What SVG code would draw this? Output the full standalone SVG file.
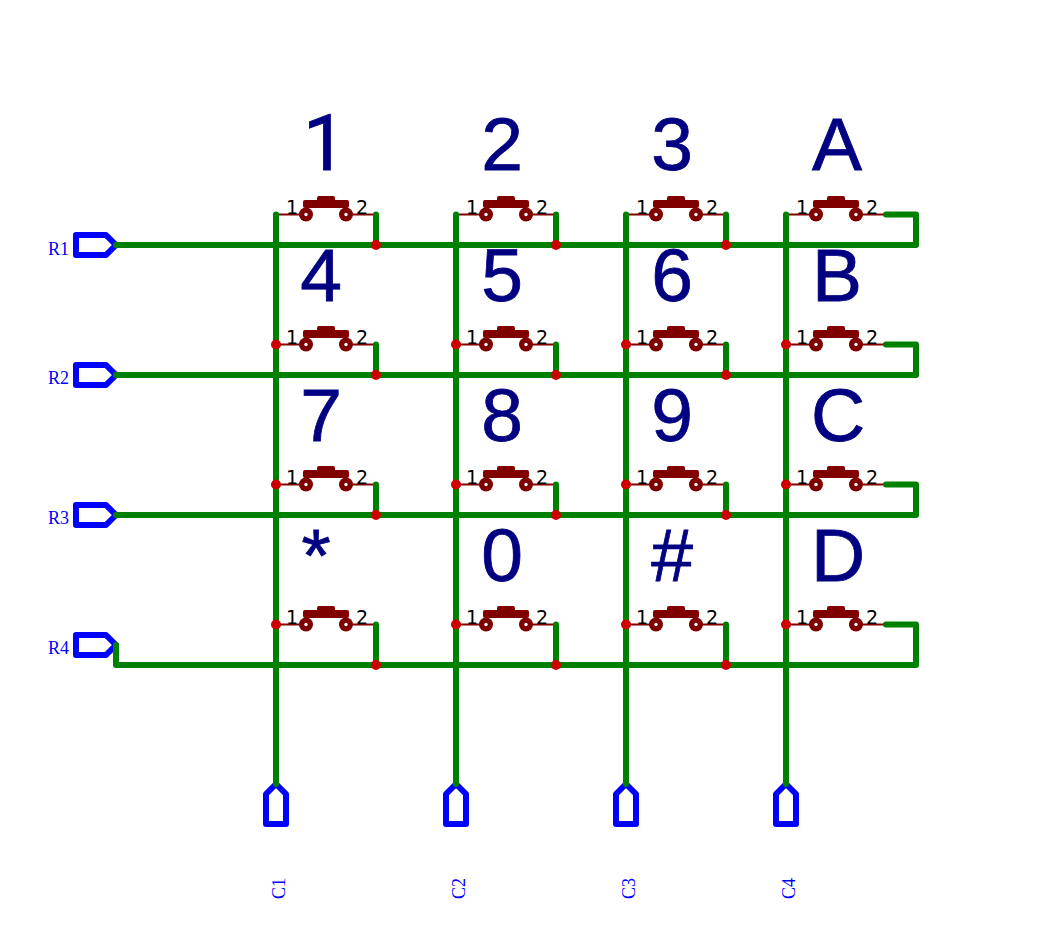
<svg xmlns="http://www.w3.org/2000/svg" width="1041" height="942" viewBox="0 0 1041 942">
<style>
.w{fill:none;stroke:#008000;stroke-width:6;stroke-linecap:round;stroke-linejoin:round}
.port{fill:#fff;stroke:#0000ff;stroke-width:6;stroke-linejoin:round}
.pl{font-family:"Liberation Serif",serif;font-size:18px;fill:#0000ff}
.key{font-family:"Liberation Sans",sans-serif;font-size:75px;fill:#000080;stroke:#000080;stroke-width:.8;text-anchor:middle}
.one{font-family:Roboto,sans-serif;font-size:77px;text-anchor:start}
.pin{font-family:"DejaVu Sans",sans-serif;font-size:19px;fill:#000}
.j{fill:#cc0000}
.lead{stroke:#800000;stroke-width:2;fill:none}
.body{fill:#800000}
.hole{fill:#fff}
</style>
<defs>
<g id="sw">
<path class="lead" d="M0 0H30M70 0H100"/>
<rect class="body" x="27" y="-14.5" width="46" height="8" rx="2"/>
<rect class="body" x="41" y="-18.5" width="18" height="6" rx="2"/>
<circle class="body" cx="30" cy="0" r="7"/><circle class="body" cx="70" cy="0" r="7"/>
<circle class="hole" cx="30" cy="0" r="1.7"/><circle class="hole" cx="70" cy="0" r="1.7"/>
<text class="pin" x="10" y="-1">1</text><text class="pin" x="80" y="-1">2</text>
</g>
<path id="rp" class="port" d="M76 -10H106L116 0L106 10H76Z"/>
<path id="cp" class="port" d="M-10 40V10L0 0L10 10V40Z"/>
</defs>
<g id="R1"><use href="#rp" y="245"/><text class="pl" x="48" y="255">R1</text></g>
<g id="R2"><use href="#rp" y="375"/><text class="pl" x="48" y="384">R2</text></g>
<g id="R3"><use href="#rp" y="515"/><text class="pl" x="48" y="524">R3</text></g>
<g id="R4"><use href="#rp" y="645"/><text class="pl" x="48" y="654">R4</text></g>
<g id="C1"><use href="#cp" x="276" y="784"/><text class="pl" transform="translate(285 899) rotate(-90)">C1</text></g>
<g id="C2"><use href="#cp" x="456" y="784"/><text class="pl" transform="translate(465 899) rotate(-90)">C2</text></g>
<g id="C3"><use href="#cp" x="626" y="784"/><text class="pl" transform="translate(635 899) rotate(-90)">C3</text></g>
<g id="C4"><use href="#cp" x="786" y="784"/><text class="pl" transform="translate(795 899) rotate(-90)">C4</text></g>
<g id="sw1"><use href="#sw" x="276" y="214.5"/><text class="key one" x="303" y="170">1</text></g>
<g id="sw2"><use href="#sw" x="456" y="214.5"/><text class="key" x="502" y="170">2</text></g>
<g id="sw3"><use href="#sw" x="626" y="214.5"/><text class="key" x="672" y="170">3</text></g>
<g id="swA"><use href="#sw" x="786" y="214.5"/><text class="key" x="837" y="170">A</text></g>
<g id="sw4"><use href="#sw" x="276" y="344.5"/><text class="key" x="321" y="301">4</text></g>
<g id="sw5"><use href="#sw" x="456" y="344.5"/><text class="key" x="502" y="301">5</text></g>
<g id="sw6"><use href="#sw" x="626" y="344.5"/><text class="key" x="672" y="301">6</text></g>
<g id="swB"><use href="#sw" x="786" y="344.5"/><text class="key" x="837" y="301">B</text></g>
<g id="sw7"><use href="#sw" x="276" y="484.5"/><text class="key" x="321" y="441">7</text></g>
<g id="sw8"><use href="#sw" x="456" y="484.5"/><text class="key" x="502" y="441">8</text></g>
<g id="sw9"><use href="#sw" x="626" y="484.5"/><text class="key" x="672" y="441">9</text></g>
<g id="swC"><use href="#sw" x="786" y="484.5"/><text class="key" x="838" y="441">C</text></g>
<g id="swStar"><use href="#sw" x="276" y="624.5"/><text class="key" x="316" y="581">*</text></g>
<g id="sw0"><use href="#sw" x="456" y="624.5"/><text class="key" x="502" y="581">0</text></g>
<g id="swHash"><use href="#sw" x="626" y="624.5"/><text class="key" x="672" y="581">#</text></g>
<g id="swD"><use href="#sw" x="786" y="624.5"/><text class="key" x="838" y="581">D</text></g>
<g id="connectors">
<path class="w" d="M116 245H916V214.500H886"/>
<path class="w" d="M116 375H916V344.500H886"/>
<path class="w" d="M116 515H916V484.500H886"/>
<path class="w" d="M116 645V665H916V624.500H886"/>
<path class="w" d="M276 214.500V784M456 214.500V784M626 214.500V784M786 214.500V784"/>
<path class="w" d="M376 214.500V245M556 214.500V245M726 214.500V245M376 344.500V375M556 344.500V375M726 344.500V375M376 484.500V515M556 484.500V515M726 484.500V515M376 624.500V665M556 624.500V665M726 624.500V665"/>
</g>
<g id="junctions" class="j">
<circle cx="376" cy="245" r="5"/><circle cx="556" cy="245" r="5"/><circle cx="726" cy="245" r="5"/>
<circle cx="376" cy="375" r="5"/><circle cx="556" cy="375" r="5"/><circle cx="726" cy="375" r="5"/>
<circle cx="376" cy="515" r="5"/><circle cx="556" cy="515" r="5"/><circle cx="726" cy="515" r="5"/>
<circle cx="376" cy="665" r="5"/><circle cx="556" cy="665" r="5"/><circle cx="726" cy="665" r="5"/>
<circle cx="276" cy="344.500" r="5"/><circle cx="456" cy="344.500" r="5"/><circle cx="626" cy="344.500" r="5"/><circle cx="786" cy="344.500" r="5"/>
<circle cx="276" cy="484.500" r="5"/><circle cx="456" cy="484.500" r="5"/><circle cx="626" cy="484.500" r="5"/><circle cx="786" cy="484.500" r="5"/>
<circle cx="276" cy="624.500" r="5"/><circle cx="456" cy="624.500" r="5"/><circle cx="626" cy="624.500" r="5"/><circle cx="786" cy="624.500" r="5"/>
</g>
</svg>
